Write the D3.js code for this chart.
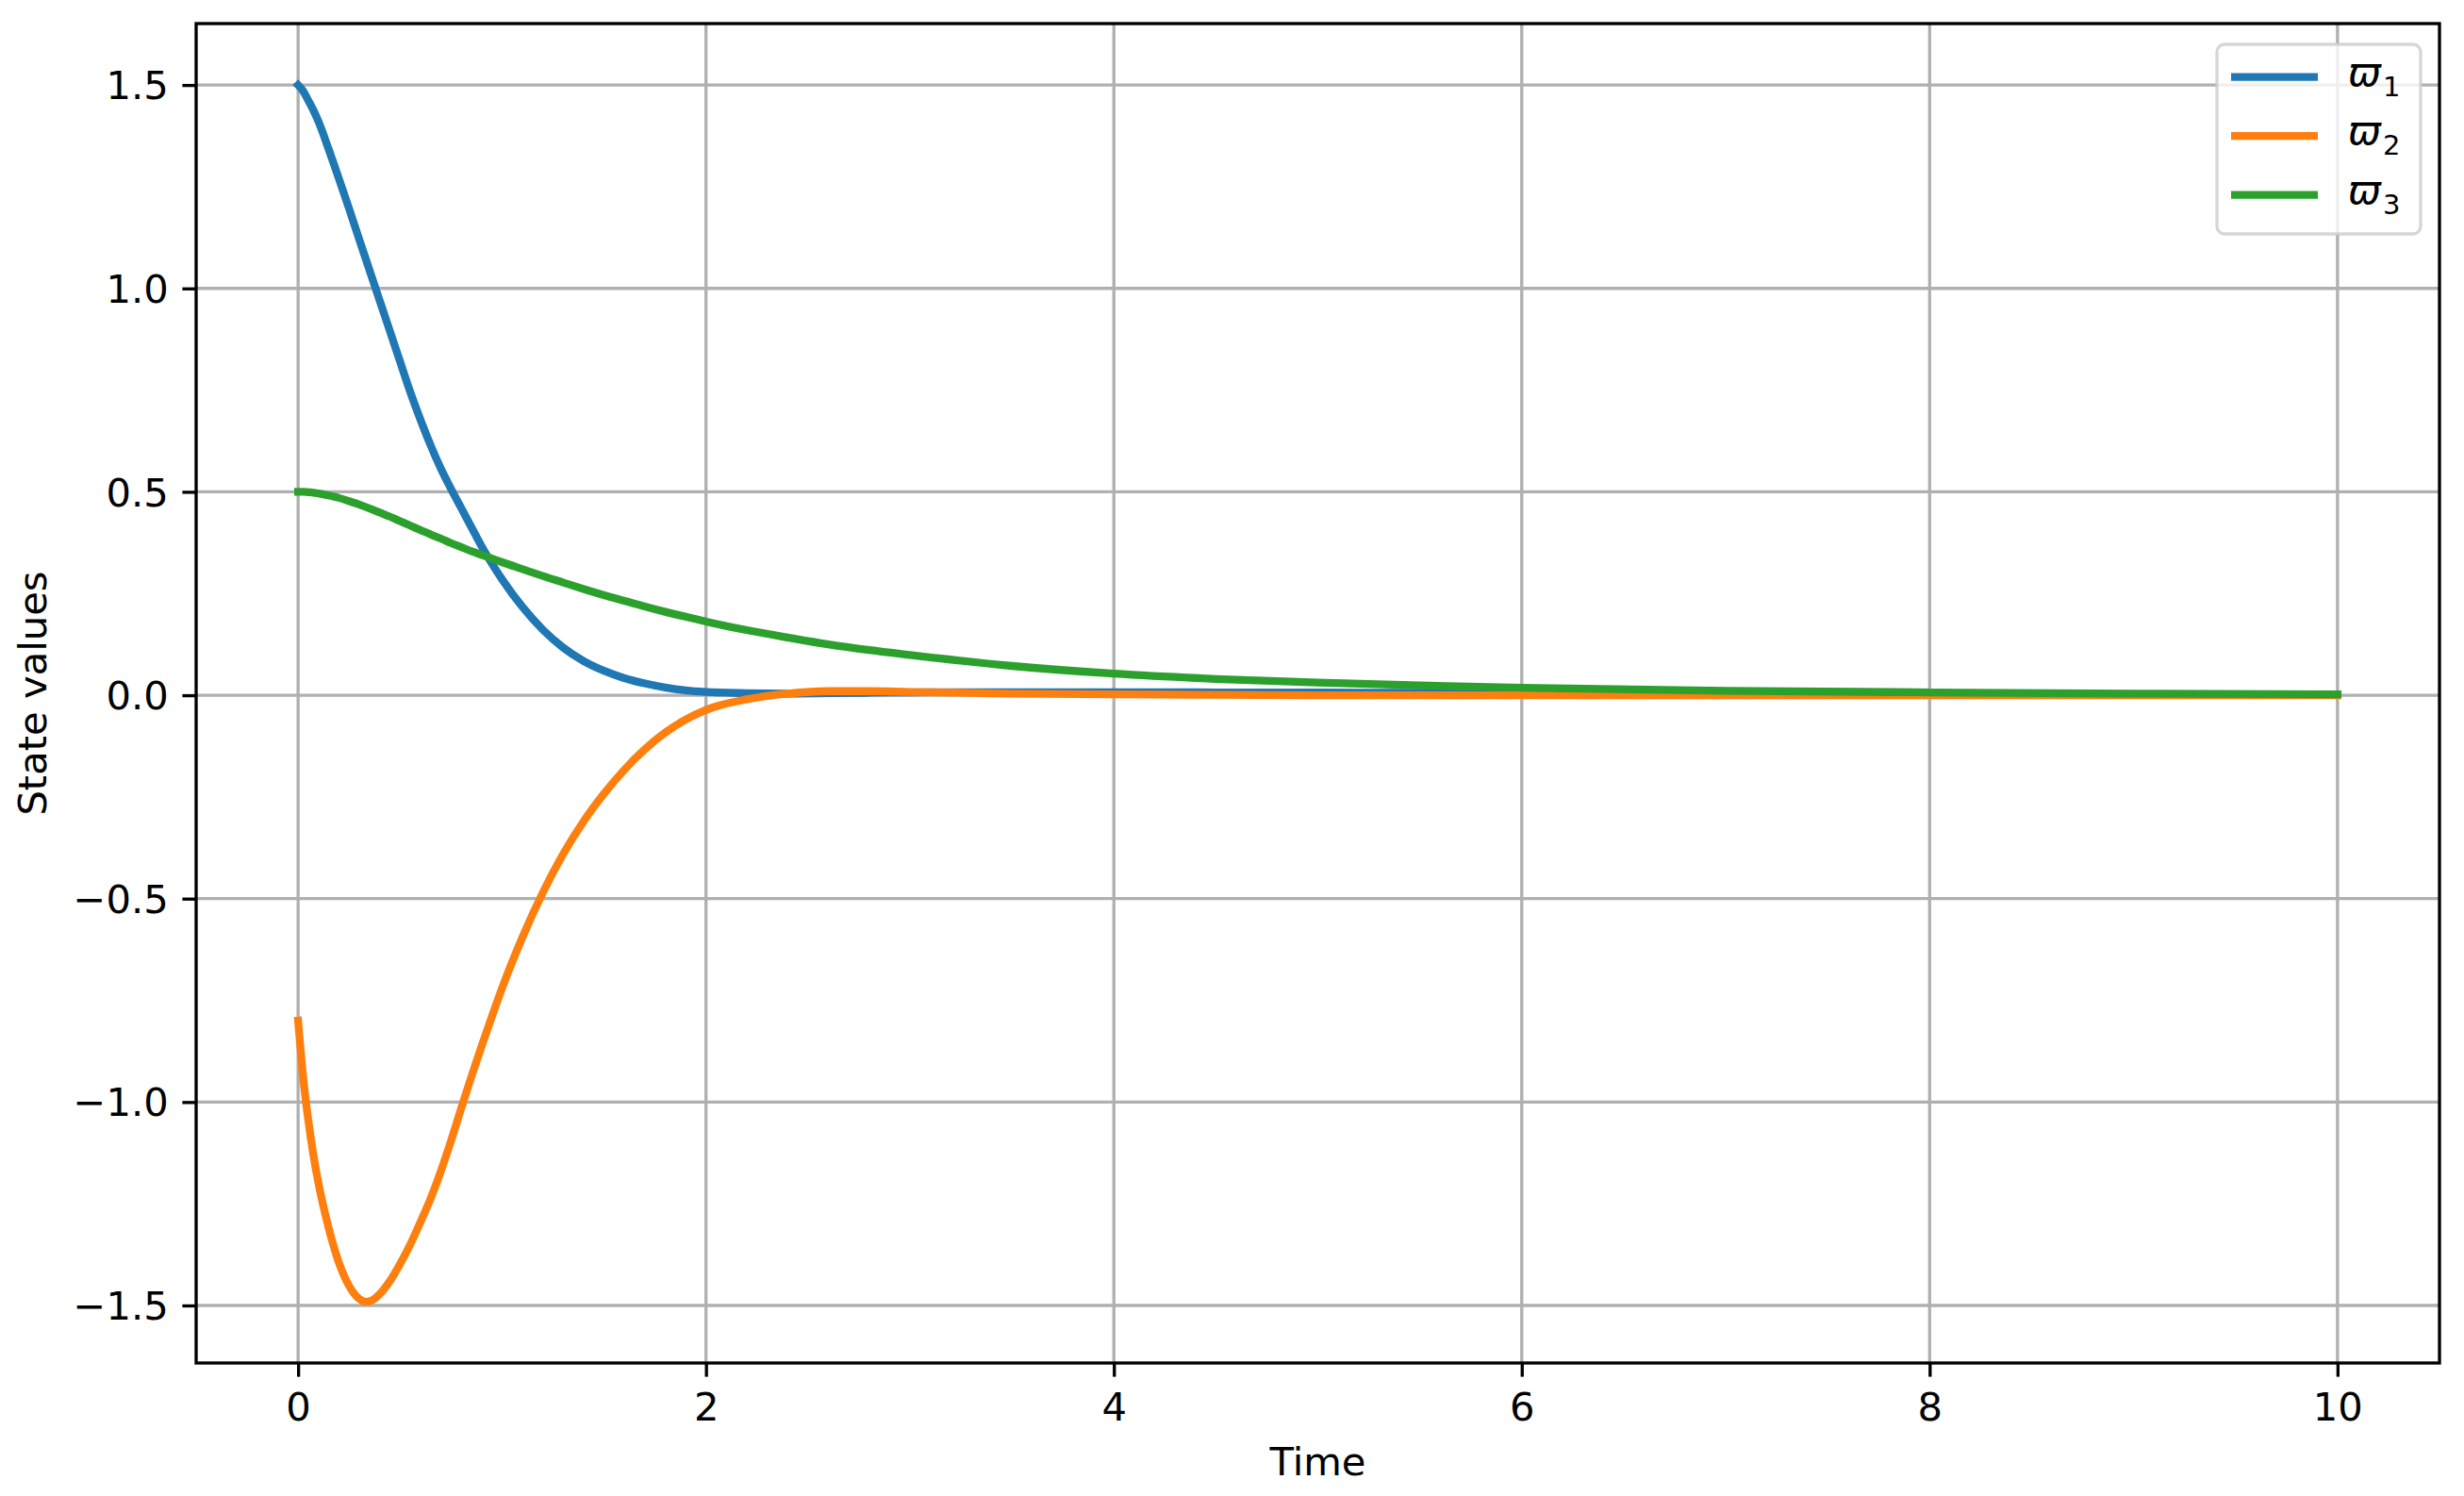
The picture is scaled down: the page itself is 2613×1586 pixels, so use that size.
<!DOCTYPE html>
<html>
<head>
<meta charset="utf-8">
<script src="https://cdn.jsdelivr.net/npm/d3@7"></script>
<style>
  html, body { margin: 0; padding: 0; background: #ffffff; }
  svg { display: block; }
  text { font-family: "DejaVu Sans", sans-serif; fill: #000; }
</style>
</head>
<body>
<svg id="chart" width="2613" height="1586"></svg>
<script>
// ---- data ----
const time = [0, 0.025, 0.05, 0.075, 0.1, 0.15, 0.2, 0.25, 0.3, 0.33, 0.36, 0.4, 0.45, 0.5, 0.55, 0.6, 0.65, 0.7, 0.75, 0.8, 0.85, 0.9, 0.95, 1.0, 1.1, 1.2, 1.3, 1.4, 1.5, 1.6, 1.7, 1.8, 1.9, 2.0, 2.2, 2.4, 2.6, 2.8, 3.0, 3.5, 4.0, 4.5, 5.0, 5.5, 6.0, 7.0, 8.0, 9.0, 10.0];
const w1 = [1.5, 1.485, 1.462, 1.438, 1.41, 1.342, 1.27, 1.196, 1.12, 1.075, 1.03, 0.97, 0.895, 0.82, 0.745, 0.677, 0.614, 0.557, 0.507, 0.46, 0.413, 0.366, 0.324, 0.285, 0.217, 0.161, 0.117, 0.084, 0.060, 0.042, 0.029, 0.019, 0.012, 0.008, 0.005, 0.004, 0.005, 0.006, 0.007, 0.0075, 0.0075, 0.007, 0.0065, 0.006, 0.005, 0.003, 0.002, 0.001, 0.0005];
const w2 = [-0.8, -0.94, -1.045, -1.13, -1.2, -1.31, -1.395, -1.452, -1.484, -1.491, -1.488, -1.472, -1.44, -1.398, -1.35, -1.295, -1.237, -1.17, -1.095, -1.015, -0.937, -0.862, -0.79, -0.72, -0.595, -0.485, -0.39, -0.31, -0.242, -0.183, -0.133, -0.092, -0.06, -0.036, -0.01, 0.004, 0.010, 0.010, 0.008, 0.004, 0.002, 0.001, 0.0, 0.0, 0.0, 0.0, 0.0, 0.0, 0.0];
const w3 = [0.5, 0.5, 0.499, 0.498, 0.496, 0.491, 0.485, 0.477, 0.469, 0.463, 0.457, 0.449, 0.439, 0.428, 0.417, 0.406, 0.395, 0.385, 0.374, 0.364, 0.354, 0.345, 0.336, 0.327, 0.31, 0.293, 0.277, 0.261, 0.246, 0.232, 0.218, 0.205, 0.193, 0.181, 0.16, 0.142, 0.125, 0.111, 0.099, 0.072, 0.053, 0.040, 0.031, 0.024, 0.0185, 0.011, 0.007, 0.004, 0.002];
const seriesNames = ["1", "2", "3"];
const seriesColors = ["#1f77b4", "#ff7f0e", "#2ca02c"];
const xTicks = [0, 2, 4, 6, 8, 10];
const yTicks = [-1.5, -1.0, -0.5, 0.0, 0.5, 1.0, 1.5];
const xLabel = "Time";
const yLabel = "State values";

// ---- layout ----
const L = 208, R = 2587, T = 25, B = 1445;
const FS = 41.7, LW = 3.33, TICK = 14.6, SW = 8.3;

const svg = d3.select("#chart");
const x = d3.scaleLinear().domain([-0.5, 10.5]).range([L, R]);
const y = d3.scaleLinear().domain([-1.6415, 1.651]).range([B, T]);

// grid
const grid = svg.append("g");
grid.selectAll(".gx").data(xTicks).enter().append("line")
  .attr("x1", d => x(d)).attr("x2", d => x(d)).attr("y1", T).attr("y2", B)
  .attr("stroke", "#b0b0b0").attr("stroke-width", LW);
grid.selectAll(".gy").data(yTicks).enter().append("line")
  .attr("y1", d => y(d)).attr("y2", d => y(d)).attr("x1", L).attr("x2", R)
  .attr("stroke", "#b0b0b0").attr("stroke-width", LW);

// lines
const series = [w1, w2, w3];
const lineGen = d3.line().x(d => x(d[0])).y(d => y(d[1])).curve(d3.curveMonotoneX);
series.forEach((s, i) => {
  svg.append("path")
    .datum(time.map((t, k) => [t, s[k]]))
    .attr("d", lineGen)
    .attr("fill", "none")
    .attr("stroke", seriesColors[i])
    .attr("stroke-width", SW)
    .attr("stroke-linejoin", "round")
    .attr("stroke-linecap", "square");
});

// axes
const fmtY = d => (d < 0 ? "\u2212" : "") + Math.abs(d).toFixed(1);
const xAxis = d3.axisBottom(x).tickValues(xTicks).tickSize(TICK).tickPadding(14.6).tickFormat(d3.format("d"));
const yAxis = d3.axisLeft(y).tickValues(yTicks).tickSize(TICK).tickPadding(14.6).tickFormat(fmtY);
const gx = svg.append("g").attr("transform", `translate(0,${B})`).call(xAxis);
const gy = svg.append("g").attr("transform", `translate(${L},0)`).call(yAxis);
[gx, gy].forEach(g => {
  g.select(".domain").remove();
  g.selectAll(".tick line").attr("stroke", "#000").attr("stroke-width", LW);
  g.selectAll(".tick text").attr("font-size", FS).attr("font-family", "DejaVu Sans").attr("fill", "#000");
});
gx.selectAll(".tick text").attr("dy", "0.76em");
gy.selectAll(".tick text").attr("dy", "0.35em");

// spines
svg.append("rect").attr("x", L).attr("y", T).attr("width", R - L).attr("height", B - T)
  .attr("fill", "none").attr("stroke", "#000").attr("stroke-width", LW).attr("stroke-linejoin", "miter");

// axis labels
svg.append("text").attr("x", (L + R) / 2).attr("y", 1564).attr("text-anchor", "middle")
  .attr("font-size", FS).text(xLabel);
svg.append("text").attr("transform", `translate(49,${(T + B) / 2}) rotate(-90)`).attr("text-anchor", "middle")
  .attr("font-size", FS).text(yLabel);

// legend
const lg = svg.append("g");
lg.append("rect").attr("x", 2351).attr("y", 47).attr("width", 216).attr("height", 201).attr("rx", 8)
  .attr("fill", "#ffffff").attr("fill-opacity", 0.8)
  .attr("stroke", "#cccccc").attr("stroke-opacity", 0.8).attr("stroke-width", LW);
seriesNames.forEach((n, i) => {
  const yy = 81.7 + i * 62.5;
  lg.append("line").attr("x1", 2366).attr("x2", 2458).attr("y1", yy).attr("y2", yy)
    .attr("stroke", seriesColors[i]).attr("stroke-width", SW);
  const t = lg.append("text").attr("x", 2490).attr("y", yy + 9).attr("font-size", FS);
  t.append("tspan").attr("font-style", "italic").text("\u03D6");
  t.append("tspan").attr("font-size", 29).attr("dy", 11).attr("dx", 2).text(n);
});
</script>
</body>
</html>
